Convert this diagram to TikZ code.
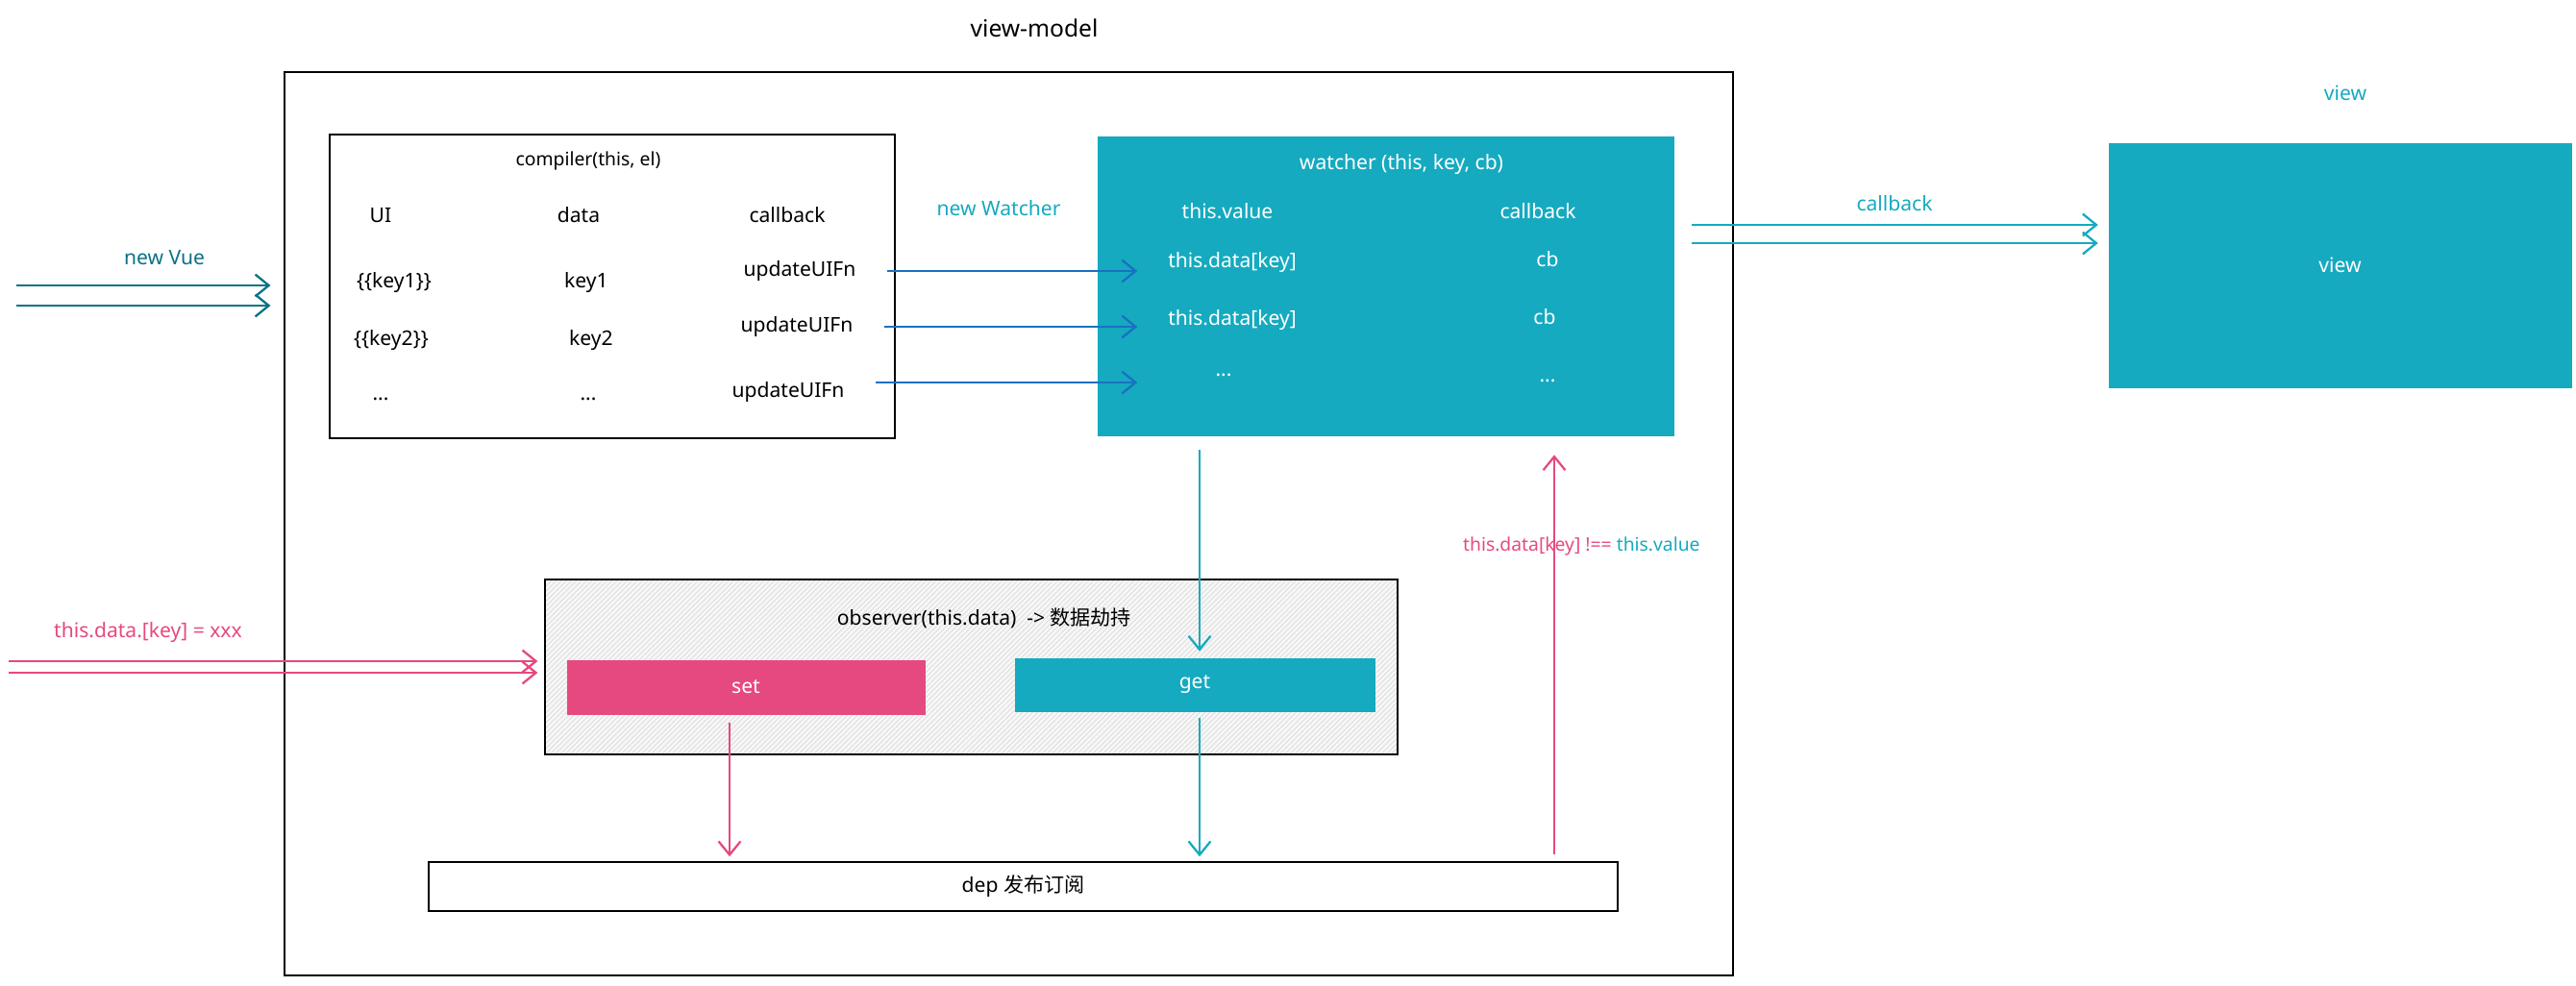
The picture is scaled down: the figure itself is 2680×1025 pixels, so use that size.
\documentclass[tikz,border=0pt]{standalone}
\usepackage{fontspec}
\setmainfont{Noto Sans}
\newfontfamily\cjk{Noto Sans CJK SC}
\usetikzlibrary{arrows.meta,positioning,patterns}
\definecolor{vcyan}{HTML}{15AABF}
\definecolor{vpink}{HTML}{E64980}
\definecolor{vblue}{HTML}{1971C2}
\definecolor{vteal}{HTML}{0B7285}

\begin{document}
\begin{tikzpicture}[x=0.02cm, y=-0.02cm,
  plainbox/.style={draw=black, line width=0.8pt, inner sep=0pt, font=\fontsize{12}{14}\selectfont},
  filled/.style={fill=#1, draw=#1, inner sep=0pt, text=white, font=\fontsize{12}{14}\selectfont},
  lbl/.style={font=\fontsize{12}{14}\selectfont, inner sep=1pt},
  wlbl/.style={lbl, text=white},
  arr/.style={-{Straight Barb[length=8pt,width=13pt]}, line width=1.3pt, #1},
  arr/.default=black
]
\useasboundingbox (0,0) rectangle (2680,1025);
\node[lbl, font=\fontsize{14}{16}\selectfont] (vmtitle) at (1076,29) {view-model};
\node[plainbox, minimum width=30.14cm, minimum height=18.8cm] (vm) at (1049.5,545) {};

\node[plainbox, minimum width=11.76cm, minimum height=6.32cm] (compiler) at (637,298) {};
\node[lbl, font=\fontsize{11}{13}\selectfont] (ctitle) at (612,167) {compiler(this, el)};
\node[lbl] (hui) at (396,224) {UI};
\node[lbl] (hdata) at (602,224) {data};
\node[lbl] (hcb) at (819,224) {callback};
\node[lbl] (ui1) at (410,294) {\{\{key1\}\}};
\node[lbl] (k1) at (610,294) {key1};
\node[lbl] (u1) at (832,282) {updateUIFn};
\node[lbl] (ui2) at (407,354) {\{\{key2\}\}};
\node[lbl] (k2) at (615,354) {key2};
\node[lbl] (u2) at (829,340) {updateUIFn};
\node[lbl] (ui3) at (396,415) {...};
\node[lbl] (k3) at (612,415) {...};
\node[lbl] (u3) at (820,408) {updateUIFn};

\node[filled=vcyan, minimum width=11.98cm, minimum height=6.22cm] (watcher) at (1441.5,297.5) {};
\node[wlbl] (wtitle) at (1458,171) {watcher (this, key, cb)};
\node[wlbl] (hval) at (1277,220) {this.value};
\node[wlbl] (hwcb) at (1600,220) {callback};
\node[wlbl] (d1) at (1282,273) {this.data[key]};
\node[wlbl] (cb1) at (1610,270) {cb};
\node[wlbl] (d2) at (1282,333) {this.data[key]};
\node[wlbl] (cb2) at (1607,330) {cb};
\node[wlbl] (d3) at (1273,390) {...};
\node[wlbl] (cb3) at (1610,396) {...};
\node[lbl, text=vcyan] (nw) at (1039,217) {new Watcher};

\node[lbl, text=vcyan] (viewtitle) at (2440,97) {view};
\node[filled=vcyan, minimum width=9.62cm, minimum height=5.08cm] (view) at (2434.5,276) {view};
\node[lbl, text=vcyan] (cblbl) at (1971,212) {callback};
\coordinate (cbs1) at (1760,234);
\coordinate (cbs2) at (1760,253);

\node[lbl, text=vteal] (nv) at (171,268) {new Vue};
\coordinate (vue1) at (17,297);
\coordinate (vue2) at (17,318);

\node[plainbox, preaction={fill=gray!6}, pattern=north east lines, pattern color=gray!30,
      minimum width=17.74cm, minimum height=3.64cm] (observer) at (1010.5,694) {};
\node[lbl] (otitle) at (1024,643) {observer(this.data)\ \ -> {\cjk 数据劫持}};
\node[filled=vpink, minimum width=7.44cm, minimum height=1.12cm] (set) at (776,715) {set};
\node[filled=vcyan, minimum width=7.48cm, minimum height=1.1cm] (get) at (1243,712.5) {get};
\node[lbl, text=vpink] (assign) at (154,658) {this.data.[key] = xxx};
\coordinate (as1) at (9,688);
\coordinate (as2) at (9,700);

\node[plainbox, minimum width=24.74cm, minimum height=1.02cm] (dep) at (1064.5,922.5) {dep {\cjk 发布订阅}};
\coordinate (back) at (1617,889);
\node[lbl, font=\fontsize{11}{13}\selectfont, anchor=west] (cond) at (1520,568)
  {\textcolor{vpink}{this.data[key] !==} \textcolor{vcyan}{this.value}};

\draw[arr=vteal, shorten >=0.28cm] (vue1) -- (vue1 -| vm.west);
\draw[arr=vteal, shorten >=0.28cm] (vue2) -- (vue2 -| vm.west);
\draw[arr=vblue, shorten <=0.6cm, shorten >=0.6cm] (u1.east) -- (u1.east -| d1.west);
\draw[arr=vblue, shorten <=0.6cm, shorten >=0.6cm] (u2.east) -- (u2.east -| d1.west);
\draw[arr=vblue, shorten <=0.6cm, shorten >=0.6cm] ([yshift=0.2cm]u3.east) -- ([yshift=0.2cm]u3.east -| d1.west);
\draw[arr=vcyan, shorten >=0.22cm] (cbs1) -- (cbs1 -| view.west);
\draw[arr=vcyan, shorten >=0.22cm] (cbs2) -- (cbs2 -| view.west);
\draw[arr=vpink, shorten >=0.14cm] (as1) -- (as1 -| observer.west);
\draw[arr=vpink, shorten >=0.14cm] (as2) -- (as2 -| observer.west);
\draw[arr=vcyan, shorten <=0.3cm, shorten >=0.14cm] ([xshift=0.1cm]get.north |- watcher.south) -- ([xshift=0.1cm]get.north);
\draw[arr=vpink, shorten <=0.18cm, shorten >=0.1cm] ([xshift=-0.34cm]set.south) -- ([xshift=-0.34cm]set.south |- dep.north);
\draw[arr=vcyan, shorten <=0.14cm, shorten >=0.1cm] ([xshift=0.1cm]get.south) -- ([xshift=0.1cm]get.south |- dep.north);
\draw[arr=vpink, shorten >=0.4cm] (back) -- (back |- watcher.south);
\end{tikzpicture}
\end{document}
